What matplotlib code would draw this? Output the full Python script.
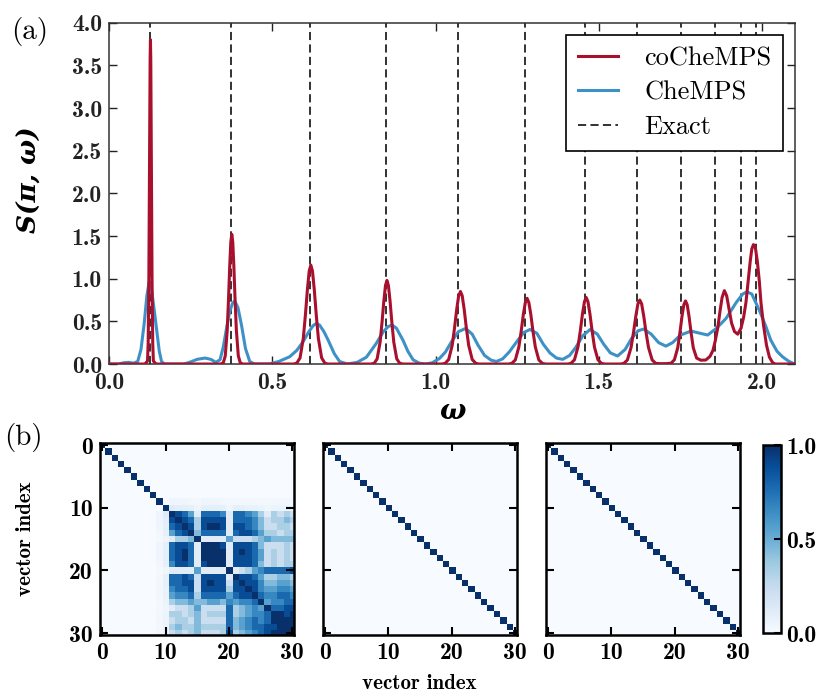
import numpy as np
import matplotlib
matplotlib.use("Agg")
import matplotlib.pyplot as plt
from matplotlib.ticker import MultipleLocator, FormatStrFormatter

plt.rcParams['font.family'] = ['cmb10', 'DejaVu Serif']
plt.rcParams['axes.unicode_minus'] = False

# ---------------- panel (a): S(pi, w) ----------------
exact_w = [0.125, 0.374, 0.616, 0.849, 1.069, 1.275, 1.457, 1.616, 1.750, 1.856, 1.935, 1.981]

cochemps_w = [0.000, 0.110,
              0.118, 0.120, 0.1221, 0.1235, 0.1248, 0.126, 0.127, 0.128, 0.1292, 0.1305, 0.1319, 0.134, 0.136, 0.144,
              0.342, 0.350, 0.356, 0.362, 0.366, 0.3696, 0.373, 0.376, 0.379, 0.3824, 0.386, 0.390, 0.396, 0.402, 0.410,
              0.565, 0.575, 0.585, 0.5949, 0.6015, 0.6074, 0.613, 0.618, 0.623, 0.6286, 0.6345, 0.6411, 0.651, 0.661, 0.670,
              0.802, 0.812, 0.821, 0.830, 0.836, 0.8414, 0.8465, 0.851, 0.8555, 0.8606, 0.866, 0.872, 0.881, 0.890, 0.900,
              1.019, 1.029, 1.040, 1.0508, 1.058, 1.0645, 1.0706, 1.076, 1.0814, 1.0875, 1.094, 1.1012, 1.112, 1.123, 1.133,
              1.223, 1.233, 1.244, 1.2548, 1.262, 1.2685, 1.2746, 1.280, 1.2854, 1.2915, 1.298, 1.3052, 1.316, 1.327, 1.337,
              1.404, 1.414, 1.425, 1.4358, 1.443, 1.4495, 1.4556, 1.461, 1.4664, 1.4725, 1.479, 1.4862, 1.497, 1.508, 1.518,
              1.566, 1.576, 1.587, 1.5984, 1.606, 1.6128, 1.6193, 1.625, 1.6307, 1.6372, 1.644, 1.6516, 1.663, 1.674,
              1.690, 1.708, 1.721, 1.731, 1.7412, 1.748, 1.7541, 1.7599, 1.765, 1.7701, 1.7759, 1.782, 1.7888, 1.799,
              1.812, 1.827, 1.840, 1.849, 1.856, 1.864, 1.871, 1.877, 1.884, 1.891, 1.898, 1.906, 1.915, 1.925,
              1.935, 1.943, 1.950, 1.957, 1.963, 1.968, 1.973, 1.979, 1.985, 1.991, 1.996, 2.004, 2.013, 2.022,
              2.032, 2.040, 2.100]
cochemps_s = [0.0, 0.0,
              0.035, 0.24, 0.99, 1.90, 2.85, 3.57, 3.80, 3.57, 2.85, 1.90, 0.99, 0.24, 0.035, 0.0,
              0.0, 0.014, 0.095, 0.395, 0.76, 1.14, 1.43, 1.52, 1.43, 1.14, 0.76, 0.395, 0.095, 0.014, 0.0,
              0.0, 0.01, 0.073, 0.30, 0.58, 0.87, 1.09, 1.16, 1.09, 0.87, 0.58, 0.30, 0.073, 0.01, 0.0,
              0.0, 0.009, 0.061, 0.255, 0.49, 0.735, 0.92, 0.98, 0.92, 0.735, 0.49, 0.255, 0.061, 0.009, 0.0,
              0.0, 0.008, 0.053, 0.22, 0.425, 0.64, 0.80, 0.85, 0.80, 0.64, 0.425, 0.22, 0.053, 0.008, 0.0,
              0.0, 0.007, 0.048, 0.20, 0.385, 0.58, 0.72, 0.77, 0.72, 0.58, 0.385, 0.20, 0.048, 0.007, 0.0,
              0.0, 0.007, 0.049, 0.20, 0.39, 0.585, 0.73, 0.78, 0.73, 0.585, 0.39, 0.20, 0.049, 0.007, 0.0,
              0.0, 0.007, 0.047, 0.195, 0.375, 0.56, 0.705, 0.75, 0.705, 0.56, 0.375, 0.195, 0.047, 0.007,
              0.004, 0.005, 0.01, 0.05, 0.19, 0.37, 0.555, 0.695, 0.74, 0.695, 0.555, 0.37, 0.19, 0.07,
              0.045, 0.047, 0.09, 0.16, 0.27, 0.43, 0.63, 0.78, 0.86, 0.80, 0.65, 0.48, 0.38, 0.35,
              0.42, 0.55, 0.72, 0.98, 1.20, 1.35, 1.40, 1.36, 1.20, 0.97, 0.72, 0.45, 0.22, 0.08,
              0.015, 0.0, 0.0]

chemps_w = [0.000, 0.030, 0.045, 0.060, 0.075, 0.088, 0.098, 0.108, 0.116, 0.123, 0.130, 0.138, 0.146, 0.154,
            0.161, 0.170, 0.230, 0.250, 0.270, 0.294, 0.312, 0.327, 0.340, 0.350, 0.360, 0.370, 0.378, 0.385,
            0.395, 0.406, 0.418, 0.431, 0.445, 0.490, 0.520, 0.553, 0.575, 0.594, 0.612, 0.625, 0.635, 0.645,
            0.658, 0.671, 0.690, 0.706, 0.730, 0.760, 0.788, 0.818, 0.840, 0.855, 0.867, 0.880, 0.900, 0.915,
            0.931, 0.950, 0.970, 0.990, 1.012, 1.030, 1.050, 1.070, 1.092, 1.112, 1.130, 1.150, 1.170, 1.186,
            1.205, 1.225, 1.250, 1.270, 1.289, 1.310, 1.330, 1.350, 1.370, 1.389, 1.410, 1.430, 1.450, 1.473,
            1.495, 1.515, 1.535, 1.557, 1.580, 1.600, 1.620, 1.637, 1.660, 1.683, 1.705, 1.725, 1.750, 1.782,
            1.810, 1.833, 1.860, 1.889, 1.920, 1.940, 1.953, 1.968, 1.991, 2.010, 2.026, 2.045, 2.062, 2.080,
            2.093, 2.100]
chemps_s = [0.0, 0.0, 0.015, 0.02, 0.01, 0.03, 0.17, 0.48, 0.80, 0.96, 0.88, 0.65, 0.40, 0.15,
            0.03, 0.0, 0.0, 0.025, 0.055, 0.07, 0.055, 0.02, 0.05, 0.20, 0.42, 0.62, 0.71, 0.74,
            0.66, 0.45, 0.18, 0.03, 0.0, 0.0, 0.03, 0.085, 0.16, 0.26, 0.38, 0.45, 0.476, 0.455,
            0.38, 0.28, 0.12, 0.03, 0.0, 0.02, 0.08, 0.24, 0.38, 0.44, 0.456, 0.42, 0.28, 0.15,
            0.05, 0.01, 0.0, 0.015, 0.066, 0.14, 0.27, 0.38, 0.417, 0.35, 0.22, 0.10, 0.045, 0.03,
            0.06, 0.14, 0.27, 0.37, 0.405, 0.36, 0.23, 0.13, 0.07, 0.055, 0.10, 0.20, 0.33, 0.405,
            0.35, 0.23, 0.13, 0.094, 0.17, 0.30, 0.39, 0.41, 0.35, 0.25, 0.21, 0.25, 0.34, 0.386,
            0.36, 0.34, 0.42, 0.534, 0.72, 0.82, 0.846, 0.82, 0.63, 0.45, 0.28, 0.15, 0.085, 0.035,
            0.01, 0.0]

# ---------------- panel (b): overlaps of the 31 Chebyshev vectors ----------------
n_vec = 31
# lower triangle of the dense block (vectors 11..30), digit/9 = |overlap|
block_rows = ["9",
              "89",
              "789",
              "5789",
              "13349",
              "788719",
              "7897199",
              "78971999",
              "688718999",
              "1111511119",
              "77872888819",
              "778828988289",
              "6778288883889",
              "56673777757889",
              "344544554656679",
              "1223522227345659",
              "33234233373456679",
              "233242222745676799",
              "3433433337456778899",
              "23234222383456789999"]
faint_row10 = [0.12, 0.10, 0.09, 0.08, 0.05, 0.09, 0.09, 0.09, 0.08, 0.04,
               0.08, 0.08, 0.07, 0.07, 0.06, 0.04, 0.06, 0.06, 0.06, 0.05]
faint_row9 = [0.04, 0.04, 0.04, 0.03, 0.02, 0.04, 0.04, 0.04, 0.03, 0.02,
              0.03, 0.03, 0.03, 0.03, 0.02, 0.02, 0.03, 0.03, 0.03, 0.02]

ov_plain = np.eye(n_vec)
for i, row in enumerate(block_rows):
    for j, ch in enumerate(row):
        ov_plain[11 + i, 11 + j] = int(ch) / 9.0
        ov_plain[11 + j, 11 + i] = int(ch) / 9.0
ov_plain[10, 11:] = faint_row10
ov_plain[11:, 10] = faint_row10
ov_plain[9, 11:] = faint_row9
ov_plain[11:, 9] = faint_row9
ov_ortho1 = np.eye(n_vec)
ov_ortho2 = np.eye(n_vec)

red = '#a8102e'
blue = '#3d91c6'
tick_size = 17

fig = plt.figure(figsize=(8.23, 6.93), dpi=100)

# ---- (a) ----
ax = fig.add_axes([0.1324, 0.4747, 0.8335, 0.4925])
for k, w in enumerate(exact_w):
    ax.axvline(w, color='#222222', lw=1.3, ls='--', dashes=(4.5, 2.4),
               label='Exact' if k == 0 else None, zorder=1)
ax.plot(cochemps_w, cochemps_s, color=red, lw=2.2, label='coCheMPS', zorder=3)
ax.plot(chemps_w, chemps_s, color=blue, lw=2.2, label='CheMPS', zorder=2)
ax.set_xlim(0, 2.1)
ax.set_ylim(0, 4.0)
ax.xaxis.set_major_locator(MultipleLocator(0.5))
ax.yaxis.set_major_locator(MultipleLocator(0.5))
ax.xaxis.set_major_formatter(FormatStrFormatter('%.1f'))
ax.yaxis.set_major_formatter(FormatStrFormatter('%.1f'))
ax.tick_params(direction='in', top=True, right=True, length=6, width=1.0,
               labelsize=tick_size, colors='#222222')
ax.tick_params(axis='x', pad=6)
ax.tick_params(axis='y', pad=5)
for sp in ax.spines.values():
    sp.set_linewidth(1.1)
    sp.set_color('#333333')
ax.set_ylabel('S(π, ω)', family='DejaVu Serif', weight='bold', style='italic', fontsize=19)
ax.yaxis.set_label_coords(-0.098, 0.54)
ax.set_xlabel('ω', family='DejaVu Serif', weight='bold', style='italic', fontsize=20)
ax.xaxis.set_label_coords(0.5, -0.1)

handles, labels = ax.get_legend_handles_labels()
order = [labels.index('coCheMPS'), labels.index('CheMPS'), labels.index('Exact')]
leg = ax.legend([handles[i] for i in order], [labels[i] for i in order],
                loc='upper right', prop={'family': 'cmr10', 'size': 19},
                fancybox=False, framealpha=1, edgecolor='black',
                handlelength=1.5, handletextpad=1.0, labelspacing=0.4,
                borderpad=0.45, borderaxespad=0.45)
leg.get_frame().set_linewidth(1.2)

fig.text(0.013, 0.976, '(a)', family='cmr10', fontsize=21, va='top', ha='left')
fig.text(0.005, 0.389, '(b)', family='cmr10', fontsize=21, va='top', ha='left')

# ---- (b) ----
panel_left = [0.1215, 0.3921, 0.6630]
mats = [ov_plain, ov_ortho1, ov_ortho2]
for k, (x0, m) in enumerate(zip(panel_left, mats)):
    bx = fig.add_axes([x0, 0.0837, 0.2360, 0.2770])
    im = bx.imshow(m, cmap='Blues', vmin=0, vmax=1, interpolation='nearest', aspect='auto')
    bx.set_xlim(-0.35, 30.3)
    bx.set_ylim(30.3, -0.35)
    bx.set_xticks([0, 10, 20, 30])
    bx.set_yticks([0, 10, 20, 30])
    bx.tick_params(direction='in', top=True, right=True, length=6, width=1.5,
                   labelsize=tick_size, pad=5, colors='black')
    for sp in bx.spines.values():
        sp.set_linewidth(1.8)
    if k == 0:
        bx.set_ylabel('vector index', fontsize=15)
        bx.yaxis.set_label_coords(-0.335, 0.5)
    else:
        bx.set_yticklabels([])
    if k == 1:
        bx.set_xlabel('vector index', fontsize=15)
        bx.xaxis.set_label_coords(0.5, -0.205)

cax = fig.add_axes([0.9275, 0.0861, 0.0211, 0.2713])
cb = fig.colorbar(im, cax=cax, ticks=[0.0, 0.5, 1.0])
cb.ax.yaxis.set_major_formatter(FormatStrFormatter('%.1f'))
cb.ax.tick_params(direction='in', length=5, width=1.5, labelsize=tick_size, pad=4)
cb.outline.set_linewidth(1.8)

fig.savefig('out.png', dpi=100)
